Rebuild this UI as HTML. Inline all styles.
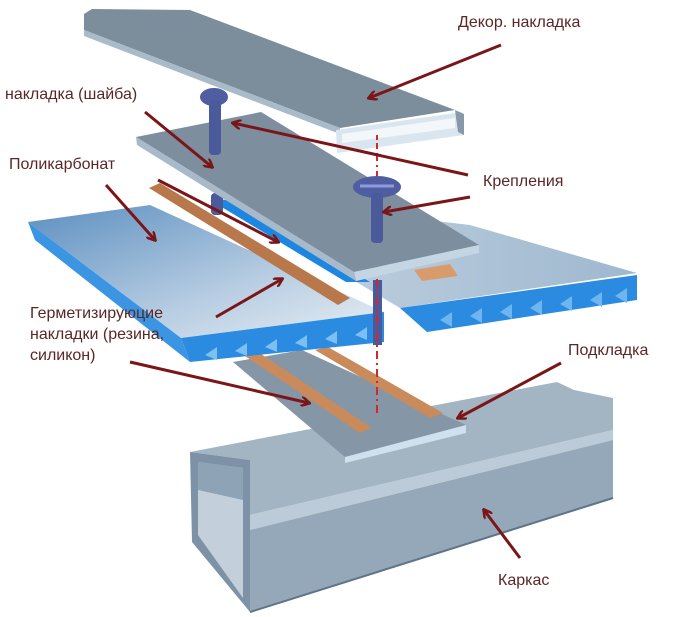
<!DOCTYPE html>
<html><head><meta charset="utf-8"><style>
html,body{margin:0;padding:0;background:#fff}
svg{display:block}
text{font-family:"Liberation Sans",Arial,sans-serif;font-size:16px;fill:#5a2626}
</style></head><body>
<svg width="675" height="617" viewBox="0 0 675 617" xmlns="http://www.w3.org/2000/svg">
<defs>
<linearGradient id="pc" x1="0" y1="0" x2="1" y2="1">
<stop offset="0" stop-color="#5c8fc0"/><stop offset="0.6" stop-color="#b7cde2"/><stop offset="1" stop-color="#e8eef4"/></linearGradient>
<linearGradient id="pc2" x1="0" y1="0" x2="1" y2="0">
<stop offset="0" stop-color="#c6d6e4"/><stop offset="1" stop-color="#9fb8cf"/></linearGradient>
<marker id="ah" markerWidth="10" markerHeight="10" refX="8" refY="5" orient="auto" markerUnits="userSpaceOnUse">
<path d="M0,0 L9,5 L0,10" fill="none" stroke="#7a1518" stroke-width="2.5"/></marker>
</defs>

<!-- Каркас tube -->
<polygon points="190,452 557,382 574,390 613,398 613,430 250,515 250,460" fill="#a3b4c3"/>
<polygon points="250,515 613,430 613,440 250,530" fill="#bccbd8"/>
<polygon points="250,530 613,440 613,498 250,612" fill="#95a8b9"/>
<polygon points="190,452 250,460 250,612 192,542" fill="#7d92a6"/>
<polygon points="198,462 243,468 243,598 198,535" fill="#c3d0dc"/>
<polygon points="198,462 243,468 243,500 198,490" fill="#8fa3b6"/>
<line x1="250" y1="612" x2="613" y2="498" stroke="#5f7487" stroke-width="2"/>

<!-- Подкладка -->
<polygon points="233,362 302,350 466,425 345,457" fill="#8597a7"/>
<polygon points="345,457 466,425 466,433 345,463" fill="#cfe0ee"/>

<!-- lower rubber strips -->
<polygon points="245,356 258,352 372,428 360,433" fill="#c98a5c"/>
<polygon points="315,350 328,347 443,413 430,418" fill="#c98a5c"/>

<!-- right polycarbonate panel -->
<polygon points="210,195 470,225 637,273 400,308" fill="url(#pc2)"/>
<polygon points="400,308 637,275 637,300 427,332" fill="#2a8be0"/>
<g fill="#6fb6f0">
<polygon points="440,320 452,312 452,327"/><polygon points="470,316 482,308 482,323"/><polygon points="500,312 512,304 512,319"/><polygon points="530,308 542,300 542,315"/><polygon points="560,304 572,296 572,311"/><polygon points="590,300 602,292 602,307"/><polygon points="615,296 627,288 627,303"/></g>
<polygon points="414,270 450,264 458,276 422,281" fill="#d99b6c"/>

<!-- left polycarbonate panel -->
<polygon points="28,222 150,205 384,312 181,338" fill="url(#pc)"/>
<polygon points="181,338 384,312 384,342 190,362" fill="#2a8be0"/>
<polygon points="28,222 181,338 190,362 35,240" fill="#3b95e2"/>
<g fill="#7cc0f2">
<polygon points="205,355 217,347 217,360"/><polygon points="235,351 247,343 247,356"/><polygon points="265,347 277,339 277,352"/><polygon points="295,343 307,335 307,348"/><polygon points="325,339 337,331 337,344"/><polygon points="355,335 367,327 367,340"/></g>
<!-- upper rubber strip -->
<polygon points="149,188 160,183 350,298 338,305" fill="#b9784c"/>
<!-- blue gap strip under middle -->
<polygon points="210,200 236,200 370,282 346,282" fill="#1d86e0"/>

<!-- screws lower parts -->
<rect x="211" y="193" width="12" height="22" rx="4" fill="#4a5a9a"/>
<rect x="373" y="280" width="9" height="65" fill="#4a5a9a"/>
<line x1="377" y1="135" x2="377" y2="415" stroke="#d2282c" stroke-width="2" stroke-dasharray="8,4,2,4"/>

<!-- middle strip (шайба) -->
<polygon points="136,137 261,112 479,245 354,272" fill="#7d8e9e"/>
<polygon points="136,137 354,272 356,281 137,145" fill="#a8bac9"/>
<polygon points="354,272 479,245 479,253 356,281" fill="#c4d6e4"/>

<!-- screws -->
<ellipse cx="214" cy="97" rx="14" ry="9" fill="#4f5ea0"/>
<rect x="209" y="100" width="12" height="55" rx="4" fill="#4a5a9a"/>
<ellipse cx="377" cy="187" rx="24" ry="11" fill="#4f5ea0"/>
<rect x="371" y="193" width="12" height="50" rx="4" fill="#4a5a9a"/>
<line x1="360" y1="186" x2="394" y2="186" stroke="#8d9ae0" stroke-width="3"/>

<!-- decor strip -->
<polygon points="84,14 92,9 190,10 455,110 340,128 84,30" fill="#7c8d9c"/>
<polygon points="84,30 340,128 340,134 84,36" fill="#a9bac8"/>
<polygon points="336,130 462,112 464,135 337,153" fill="#d9e6f0"/>
<polygon points="342,134 455,118 455,128 342,143" fill="#f3f7fa"/>
<polygon points="455,110 464,114 464,135 458,132" fill="#8898a8"/>
<line x1="377" y1="135" x2="377" y2="150" stroke="#d2282c" stroke-width="2" stroke-dasharray="5,3"/>

<!-- arrows -->
<g stroke="#7a1518" stroke-width="3" fill="none" marker-end="url(#ah)">
<line x1="501" y1="45" x2="369" y2="98"/>
<line x1="145" y1="112" x2="212" y2="167"/>
<line x1="468" y1="175" x2="233" y2="123"/>
<line x1="470" y1="197" x2="384" y2="212"/>
<line x1="106" y1="185" x2="155" y2="240"/>
<line x1="158" y1="180" x2="278" y2="242"/>
<line x1="216" y1="317" x2="282" y2="279"/>
<line x1="130" y1="362" x2="309" y2="403"/>
<line x1="561" y1="363" x2="458" y2="418"/>
<line x1="520" y1="558" x2="484" y2="510"/>
</g>

<!-- labels -->
<text x="458" y="27">Декор. накладка</text>
<text x="5" y="99">накладка (шайба)</text>
<text x="483" y="186">Крепления</text>
<text x="9" y="169">Поликарбонат</text>
<text x="30" y="318">Герметизируюцие</text>
<text x="30" y="339">накладки (резина,</text>
<text x="30" y="360">силикон)</text>
<text x="568" y="355">Подкладка</text>
<text x="498" y="585">Каркас</text>
</svg>
</body></html>
